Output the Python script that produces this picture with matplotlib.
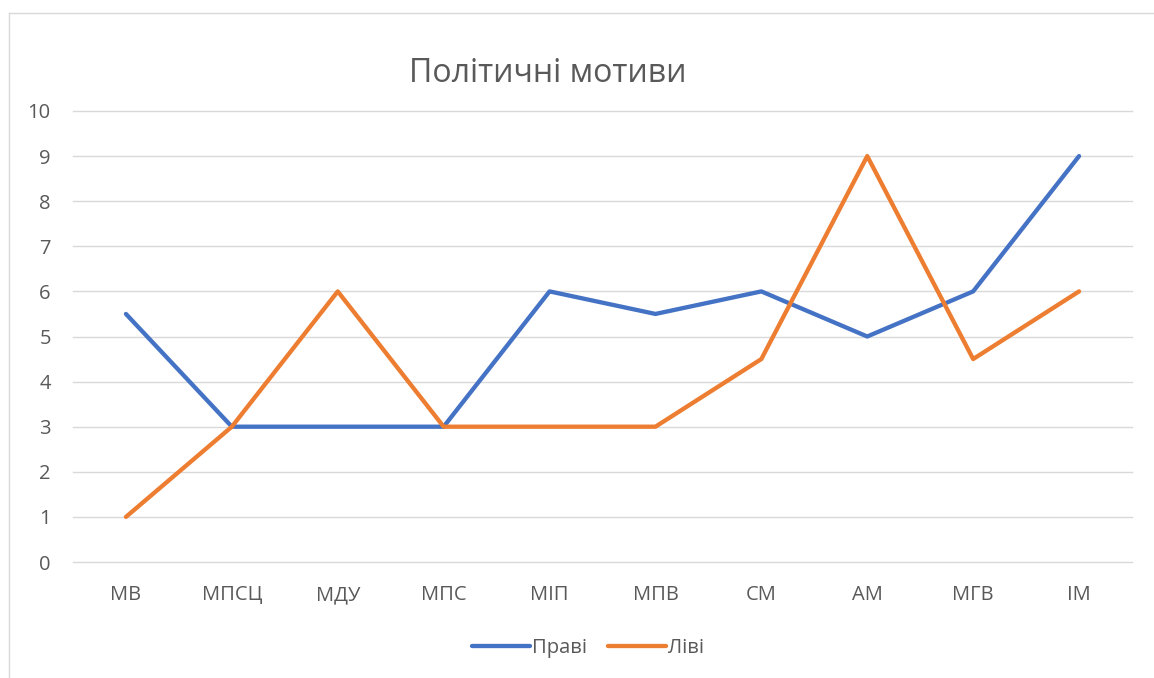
import matplotlib.pyplot as plt
from matplotlib.lines import Line2D

# categories and values
categories = ['МВ', 'МПСЦ', 'МДУ', 'МПС', 'МІП', 'МПВ', 'СМ', 'АМ', 'МГВ', 'ІМ']
right_vals = [5.5, 3, 3, 3, 6, 5.5, 6, 5, 6, 9]
left_vals = [1, 3, 6, 3, 3, 3, 4.5, 9, 4.5, 6]
yticks = list(range(0, 11))

blue = '#4472C4'
orange = '#ED7D31'
grey_txt = '#595959'

plt.rcParams['font.family'] = ['Open Sans', 'DejaVu Sans']

W, H = 1154, 678
fig = plt.figure(figsize=(W / 100, H / 100), dpi=100)
ax = fig.add_axes([73 / W, 1 - 562 / H, (1132 - 73) / W, (562 - 111) / H])

x = range(len(categories))
ax.plot(x, right_vals, color=blue, lw=3.1, solid_capstyle='round',
        solid_joinstyle='round', label='Праві', zorder=3)
ax.plot(x, left_vals, color=orange, lw=3.1, solid_capstyle='round',
        solid_joinstyle='round', label='Ліві', zorder=3)

ax.set_xlim(-0.5, len(categories) - 0.5)
ax.set_ylim(0, 10)
ax.set_yticks(yticks)
ax.set_xticks(list(x))
ax.set_xticklabels(categories)
ax.yaxis.grid(True, color='#D9D9D9', lw=1)
for gl in ax.get_ygridlines():
    gl.set_clip_on(False)
ax.set_axisbelow(True)
for s in ax.spines.values():
    s.set_visible(False)
ax.tick_params(axis='both', length=0, labelsize=14.5, labelcolor=grey_txt)
ax.tick_params(axis='y', pad=16)
ax.tick_params(axis='x', pad=16.5)

fig.text(548 / W, 1 - 73 / H, 'Політичні мотиви', ha='center', va='center',
         fontsize=23, color=grey_txt)

fig.legend(loc='center', bbox_to_anchor=(588 / W, 1 - 648 / H), ncol=2,
           frameon=False, fontsize=14.5, handlelength=2.9, handletextpad=0.1,
           columnspacing=1.0, labelcolor=grey_txt)

# chart frame (only left and top edge visible in the crop)
fig.add_artist(Line2D([8.5 / W, 8.5 / W], [0, 1 - 13 / H], color='#D9D9D9',
                      lw=1, transform=fig.transFigure))
fig.add_artist(Line2D([8.5 / W, 1], [1 - 13 / H, 1 - 13 / H], color='#D9D9D9',
                      lw=1, transform=fig.transFigure))

fig.savefig('out.png', dpi=100)
